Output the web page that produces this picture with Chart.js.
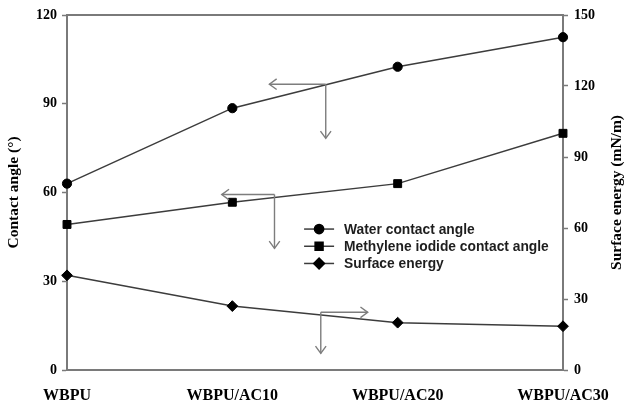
<!DOCTYPE html>
<html>
<head>
<meta charset="utf-8">
<script src="https://cdn.jsdelivr.net/npm/chart.js@4/dist/chart.umd.min.js"></script>
<style>
  html, body { margin: 0; padding: 0; background: #fff; }
  #wrap { width: 626px; height: 407px; }
</style>
</head>
<body>
<div id="wrap"><canvas id="c" width="626" height="407"></canvas></div>
<script>
// Samples along the x axis
const categories = ['WBPU', 'WBPU/AC10', 'WBPU/AC20', 'WBPU/AC30'];

// Contact angles (°), left axis
const waterContactAngle = [63, 88.5, 102.5, 112.5];
const methyleneIodideContactAngle = [49.2, 56.7, 63, 80];

// Surface energy (mN/m), right axis
const surfaceEnergy = [40, 27, 20, 18.5];

// Axis ticks
const contactAngleTicks = [0, 30, 60, 90, 120];
const surfaceEnergyTicks = [0, 30, 60, 90, 120, 150];

const seriesNames = ['Water contact angle', 'Methylene iodide contact angle', 'Surface energy'];
const rightAxisTitle = 'Surface energy (mN/m)';

const LINE = '#3c3c3c';
const AXIS = '#7a7a7a';
const ARROW = '#7d7d7d';
const SERIF = '"Liberation Serif", "Times New Roman", serif';
const SANS = '"Liberation Sans", Arial, sans-serif';

// Arrows pointing from each curve to the axis it is read against
// (x in category units, y in contact-angle units)
const guideArrows = [
  { x: 1.565, y: 96.6, toX: 1.224, toY: 78.3 },
  { x: 1.255, y: 59.3, toX: 0.936, toY: 41.1 },
  { x: 1.535, y: 19.5, toX: 1.819, toY: 5.6 }
];

function arrowHead(ctx, x1, y1, x2, y2, len) {
  const a = Math.atan2(y2 - y1, x2 - x1);
  const spread = Math.PI / 5;
  ctx.beginPath();
  ctx.moveTo(x2 - len * Math.cos(a - spread), y2 - len * Math.sin(a - spread));
  ctx.lineTo(x2, y2);
  ctx.lineTo(x2 - len * Math.cos(a + spread), y2 - len * Math.sin(a + spread));
  ctx.stroke();
}

// Top edge of the plot frame and the right-hand axis title (read bottom to top)
const framePlugin = {
  id: 'frame',
  beforeDatasetsDraw(chart) {
    const { ctx, chartArea: a } = chart;
    ctx.save();
    ctx.strokeStyle = AXIS;
    ctx.lineWidth = 2;
    ctx.beginPath();
    ctx.moveTo(a.left, a.top);
    ctx.lineTo(a.right, a.top);
    ctx.stroke();
    ctx.translate(chart.width - 9, (a.top + a.bottom) / 2);
    ctx.rotate(-Math.PI / 2);
    ctx.font = 'bold 15.5px ' + SERIF;
    ctx.fillStyle = '#000';
    ctx.textAlign = 'center';
    ctx.textBaseline = 'middle';
    ctx.fillText(rightAxisTitle, 0, 0);
    ctx.restore();
  }
};

const arrowPlugin = {
  id: 'guideArrows',
  afterDatasetsDraw(chart) {
    const { ctx, scales } = chart;
    ctx.save();
    ctx.strokeStyle = ARROW;
    ctx.lineWidth = 1.4;
    guideArrows.forEach(g => {
      const cx = scales.x.getPixelForValue(g.x);
      const cy = scales.y.getPixelForValue(g.y);
      const hx = scales.x.getPixelForValue(g.toX);
      const vy = scales.y.getPixelForValue(g.toY);
      ctx.beginPath();
      ctx.moveTo(hx, cy); ctx.lineTo(cx, cy);
      ctx.moveTo(cx, cy); ctx.lineTo(cx, vy);
      ctx.stroke();
      arrowHead(ctx, cx, cy, hx, cy, 9);
      arrowHead(ctx, cx, cy, cx, vy, 9);
    });
    ctx.restore();
  }
};

const legendPlugin = {
  id: 'lineLegend',
  afterDraw(chart) {
    const { ctx, chartArea: a } = chart;
    const x0 = a.left + 0.478 * (a.right - a.left);
    const y0 = a.top + 0.603 * (a.bottom - a.top);
    ctx.save();
    ctx.font = 'bold 13.8px ' + SANS;
    ctx.textBaseline = 'middle';
    chart.data.datasets.forEach((ds, i) => {
      const y = y0 + i * 17.2;
      ctx.strokeStyle = LINE;
      ctx.lineWidth = 1.5;
      ctx.beginPath();
      ctx.moveTo(x0, y); ctx.lineTo(x0 + 30, y);
      ctx.stroke();
      ctx.fillStyle = '#000';
      ctx.strokeStyle = '#000';
      Chart.helpers.drawPoint(ctx, {
        pointStyle: ds.pointStyle, radius: ds.pointRadius, borderWidth: 1
      }, x0 + 15, y);
      ctx.fillStyle = '#1e1e1e';
      ctx.fillText(ds.label, x0 + 40, y + 1);
    });
    ctx.restore();
  }
};

const tickFont = { family: SERIF, size: 14, weight: 'bold' };
const titleFont = { family: SERIF, size: 15.5, weight: 'bold' };

new Chart(document.getElementById('c'), {
  type: 'line',
  data: {
    labels: categories,
    datasets: [
      {
        label: seriesNames[0], data: waterContactAngle, yAxisID: 'y',
        pointStyle: 'circle', pointRadius: 4.6
      },
      {
        label: seriesNames[1], data: methyleneIodideContactAngle, yAxisID: 'y',
        pointStyle: 'rect', pointRadius: 5.6
      },
      {
        label: seriesNames[2], data: surfaceEnergy, yAxisID: 'y1',
        pointStyle: 'rectRot', pointRadius: 5.4
      }
    ].map(d => Object.assign(d, {
      borderColor: LINE, borderWidth: 1.5,
      pointBackgroundColor: '#000', pointBorderColor: '#000', pointBorderWidth: 1,
      tension: 0, fill: false, clip: false
    }))
  },
  options: {
    responsive: false,
    animation: false,
    events: [],
    layout: { padding: { top: 15, left: 0, right: 0, bottom: 0 } },
    plugins: { legend: { display: false }, tooltip: { enabled: false } },
    scales: {
      x: {
        type: 'category', offset: false,
        grid: { display: true, drawOnChartArea: false, drawTicks: false },
        border: { display: true, color: AXIS, width: 2 },
        ticks: { font: { family: SERIF, size: 16, weight: 'bold' }, color: '#000', padding: 16, maxRotation: 0, autoSkip: false },
        afterFit(s) { s.height = 37; }
      },
      y: {
        position: 'left', min: 0, max: 120,
        afterBuildTicks(s) { s.ticks = contactAngleTicks.map(v => ({ value: v })); },
        grid: { drawOnChartArea: false, drawTicks: true, tickLength: 5, color: AXIS, tickWidth: 1.5 },
        border: { display: true, color: AXIS, width: 2 },
        ticks: { font: tickFont, color: '#000', padding: 5 },
        title: { display: true, text: 'Contact angle (°)', font: titleFont, color: '#000', padding: { top: 5, bottom: 0 } },
        afterFit(s) { s.width = 67; }
      },
      y1: {
        position: 'right', min: 0, max: 150,
        afterBuildTicks(s) { s.ticks = surfaceEnergyTicks.map(v => ({ value: v })); },
        grid: { drawOnChartArea: false, drawTicks: true, tickLength: 5, color: AXIS, tickWidth: 1.5 },
        border: { display: true, color: AXIS, width: 2 },
        ticks: { font: tickFont, color: '#000', padding: 6 },
        afterFit(s) { s.width = 63; }
      }
    }
  },
  plugins: [framePlugin, arrowPlugin, legendPlugin]
});
</script>
</body>
</html>
